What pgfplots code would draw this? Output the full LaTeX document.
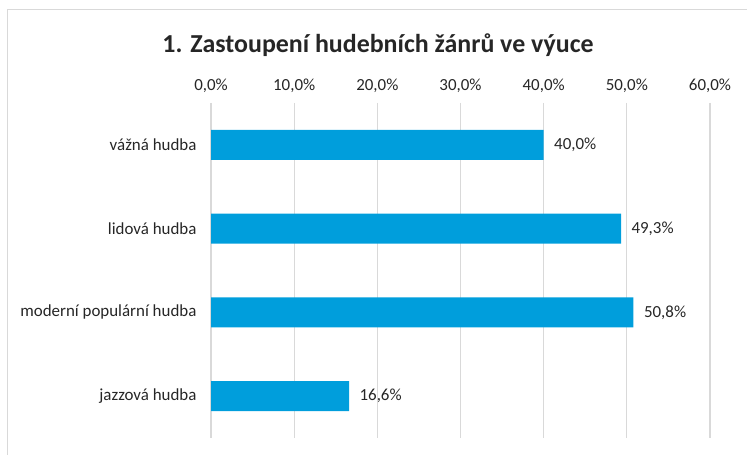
\documentclass[border=0pt]{standalone}
\usepackage{pgfplots}
\pgfplotsset{compat=1.18}
\usepackage{fontspec}
\setmainfont{Carlito}
\definecolor{barblue}{RGB}{0,158,220}
\definecolor{gridgray}{RGB}{217,217,217}
\begin{document}
\begin{tikzpicture}[x=1bp,y=1bp]
\useasboundingbox (0,0) rectangle (747,455);
\draw[gridgray,line width=1.2bp] (7.5,0) -- (7.5,445.5) -- (747,445.5);
\node[font=\bfseries\fontsize{26}{30}\selectfont, text=black!85] at (378,410) {1. Zastoupení hudebních žánrů ve výuce};
\begin{axis}[
  at={(211bp,17bp)}, anchor=south west,
  scale only axis, width=499bp, height=335bp,
  xmin=0, xmax=60, ymin=-0.5, ymax=3.5,
  y dir=reverse,
  xbar, bar width=30bp,
  axis line style={draw=none},
  major tick length=0pt,
  xtick={0,10,20,30,40,50,60},
  xticklabels={{0,0\%},{10,0\%},{20,0\%},{30,0\%},{40,0\%},{50,0\%},{60,0\%}},
  xticklabel pos=upper,
  xmajorgrids, grid style={gridgray,line width=1.2bp},
  ytick={0,1,2,3},
  yticklabels={vážná hudba,lidová hudba,moderní populární hudba,jazzová hudba},
  tick label style={font=\fontsize{17}{20}\selectfont, text=black!85},
  xticklabel style={yshift=7bp},
  yticklabel style={xshift=-11bp},
  nodes near coords={\pgfmathprintnumber[fixed,fixed zerofill,precision=1,use comma,assume math mode=true]{\pgfplotspointmeta}\%},
  nodes near coords style={font=\fontsize{17}{20}\selectfont, text=black!85, anchor=west, xshift=7bp},
  point meta=x,
]
\addplot[fill=barblue, draw=none] coordinates {(40.0,0) (49.3,1) (50.8,2) (16.6,3)};
\end{axis}
\end{tikzpicture}
\end{document}
